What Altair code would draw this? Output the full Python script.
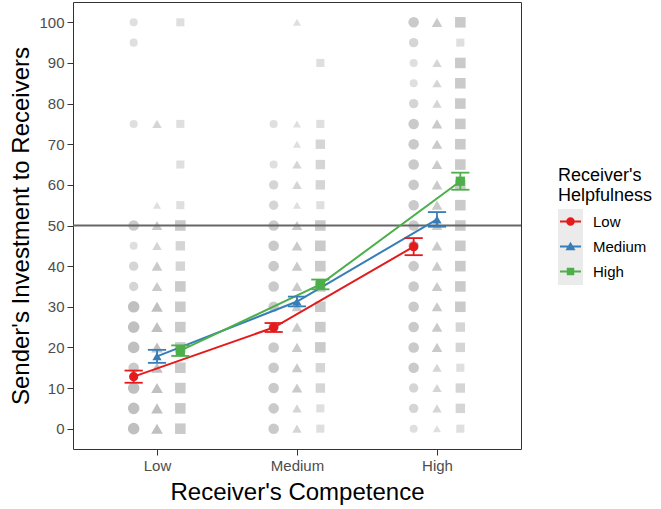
import altair as alt
import pandas as pd

FONT = "Liberation Sans"

# Categories
competence = ["Low", "Medium", "High"]
helpfulness = ["Low", "Medium", "High"]
help_colors = ["#E41A1C", "#377EB8", "#4DAF4A"]
help_shapes = ["circle", "triangle-up", "square"]
investment_levels = list(range(0, 101, 5))
y_ticks = list(range(0, 101, 10))

# Mean investment (and SE) for each helpfulness level, by competence level
mean_low_help = [12.8, 24.9, 44.8]
mean_medium_help = [17.8, 31.3, 51.5]
mean_high_help = [19.2, 35.5, 60.9]
se_low_help = [1.5, 1.1, 2.1]
se_medium_help = [1.6, 1.2, 1.8]
se_high_help = [1.3, 1.2, 2.1]

# Number of responses at each investment level 0, 5, ..., 100
counts_lowcomp_lowhelp = [4, 4, 4, 3, 4, 4, 4, 2, 2, 1, 3, 0, 0, 0, 0, 1, 0, 0, 0, 1, 1]
counts_lowcomp_medhelp = [4, 4, 4, 4, 4, 4, 4, 3, 3, 2, 3, 1, 0, 0, 0, 2, 0, 0, 0, 0, 0]
counts_lowcomp_highhelp = [3, 3, 3, 3, 3, 3, 3, 3, 2, 2, 3, 1, 0, 1, 0, 1, 0, 0, 0, 0, 1]
counts_medcomp_lowhelp = [3, 3, 3, 3, 3, 3, 3, 3, 3, 3, 3, 2, 2, 1, 0, 1, 0, 0, 0, 0, 0]
counts_medcomp_medhelp = [2, 2, 3, 3, 3, 3, 3, 3, 3, 3, 3, 1, 2, 2, 1, 1, 0, 0, 0, 0, 1]
counts_medcomp_highhelp = [1, 1, 2, 2, 3, 3, 3, 3, 3, 3, 3, 1, 2, 2, 2, 1, 0, 0, 1, 0, 0]
counts_highcomp_lowhelp = [1, 2, 2, 3, 3, 3, 3, 3, 3, 3, 3, 3, 3, 3, 3, 3, 2, 1, 1, 2, 3]
counts_highcomp_medhelp = [1, 2, 2, 2, 3, 3, 3, 3, 3, 3, 3, 3, 3, 3, 3, 3, 2, 2, 2, 0, 3]
counts_highcomp_highhelp = [1, 2, 2, 1, 2, 2, 3, 3, 3, 3, 3, 3, 3, 3, 3, 3, 3, 3, 3, 1, 3]

counts = {
    ("Low", "Low"): counts_lowcomp_lowhelp,
    ("Low", "Medium"): counts_lowcomp_medhelp,
    ("Low", "High"): counts_lowcomp_highhelp,
    ("Medium", "Low"): counts_medcomp_lowhelp,
    ("Medium", "Medium"): counts_medcomp_medhelp,
    ("Medium", "High"): counts_medcomp_highhelp,
    ("High", "Low"): counts_highcomp_lowhelp,
    ("High", "Medium"): counts_highcomp_medhelp,
    ("High", "High"): counts_highcomp_highhelp,
}
means = {"Low": mean_low_help, "Medium": mean_medium_help, "High": mean_high_help}
ses = {"Low": se_low_help, "Medium": se_medium_help, "High": se_high_help}

# position dodge of the three helpfulness groups around each competence level
DODGE = 1 / 6
CAP = 0.065
dodge = {h: (i - 1) * DODGE for i, h in enumerate(helpfulness)}

raw_rows = []
for ci, comp in enumerate(competence):
    for h in helpfulness:
        for v, n in zip(investment_levels, counts[(comp, h)]):
            if n > 0:
                raw_rows.append({"competence": comp, "helpfulness": h,
                                 "x": ci + 1 + dodge[h], "investment": v, "n": n})
raw = pd.DataFrame(raw_rows)

mean_rows = []
for h in helpfulness:
    for ci, comp in enumerate(competence):
        m, s = means[h][ci], ses[h][ci]
        x = ci + 1 + dodge[h]
        mean_rows.append({"competence": comp, "helpfulness": h, "x": x,
                          "investment": m, "lo": m - s, "hi": m + s,
                          "xlo": x - CAP, "xhi": x + CAP})
summary = pd.DataFrame(mean_rows)

x_scale = alt.Scale(domain=[0.4, 3.6], nice=False, zero=False)
y_scale = alt.Scale(domain=[-5, 105], nice=False, zero=False)

label_expr = " : ".join(
    f"datum.value == {i + 1} ? '{c}'" for i, c in enumerate(competence[:-1])
) + f" : '{competence[-1]}'"

x_axis = alt.Axis(title="Receiver's Competence", values=[1, 2, 3], labelExpr=label_expr,
                  titlePadding=7)
y_axis = alt.Axis(title="Sender's Investment to Receivers", values=y_ticks, titlePadding=5)

X = alt.X("x:Q", scale=x_scale, axis=x_axis)
Y = alt.Y("investment:Q", scale=y_scale, axis=y_axis)
color_enc = alt.Color("helpfulness:N", scale=alt.Scale(domain=helpfulness, range=help_colors),
                      legend=None)

# raw responses in grey
background = alt.Chart(raw).mark_point(filled=True, color="#c0c0c0", strokeWidth=0).encode(
    x=X, y=Y,
    shape=alt.Shape("helpfulness:N", scale=alt.Scale(domain=helpfulness, range=help_shapes),
                    legend=None),
    opacity=alt.Opacity("n:Q", scale=alt.Scale(domain=[1, 4], range=[0.5, 1.0]), legend=None),
    size=alt.Size("n:Q", scale=alt.Scale(domain=[1, 4], range=[65, 135]), legend=None),
)

midline = alt.Chart(pd.DataFrame({"investment": [50]})).mark_rule(
    color="#666666", strokeWidth=1.8
).encode(y=Y)

lines = alt.Chart(summary).mark_line(strokeWidth=2).encode(
    x=X, y=Y, color=color_enc, order="x:Q"
)

err_stems = alt.Chart(summary).mark_rule(strokeWidth=1.8).encode(
    x=X, y=alt.Y("lo:Q", scale=y_scale, axis=y_axis), y2="hi:Q", color=color_enc
)
cap_lo = alt.Chart(summary).mark_rule(strokeWidth=1.8).encode(
    x=alt.X("xlo:Q", scale=x_scale, axis=x_axis), x2="xhi:Q",
    y=alt.Y("lo:Q", scale=y_scale, axis=y_axis), color=color_enc
)
cap_hi = alt.Chart(summary).mark_rule(strokeWidth=1.8).encode(
    x=alt.X("xlo:Q", scale=x_scale, axis=x_axis), x2="xhi:Q",
    y=alt.Y("hi:Q", scale=y_scale, axis=y_axis), color=color_enc
)

mean_points = alt.Chart(summary).mark_point(filled=True, opacity=1, size=85, strokeWidth=0).encode(
    x=X, y=Y, color=color_enc,
    shape=alt.Shape("helpfulness:N", scale=alt.Scale(domain=helpfulness, range=help_shapes),
                    legend=None),
)

# legend keys: a short line with the group's marker
seg = "M-0.84,-0.08H0.84V0.08H-0.84Z"
key_paths = [
    seg + "M0.34,0A0.34,0.34,0,1,1,-0.34,0A0.34,0.34,0,1,1,0.34,0Z",
    seg + "M0,-0.38L0.4,0.3H-0.4Z",
    seg + "M-0.3,-0.3H0.3V0.3H-0.3Z",
]
legend = alt.Legend(
    title=["Receiver's", "Helpfulness"], orient="none", legendX=485, legendY=165,
    titleFontSize=18, titleFontWeight="normal", titleColor="black", titleFont=FONT,
    titleLineHeight=20, titlePadding=4, padding=0,
    labelFontSize=15, labelColor="black", labelFont=FONT, labelOffset=10,
    symbolSize=625, symbolStrokeWidth=0, symbolOpacity=1, rowPadding=4,
)
legend_keys = alt.Chart(summary).transform_filter("false").mark_point(
    filled=True, opacity=1, size=625, strokeWidth=0
).encode(
    x=X, y=Y,
    color=alt.Color("helpfulness:N", scale=alt.Scale(domain=helpfulness, range=help_colors),
                    legend=legend),
    shape=alt.Shape("helpfulness:N", scale=alt.Scale(domain=helpfulness, range=key_paths),
                    legend=legend),
)

key_bg = alt.Chart(pd.DataFrame({"k": [0]})).mark_rect(color="#ebebeb").encode(
    x=alt.value(485), x2=alt.value(510), y=alt.value(207), y2=alt.value(283)
)

chart = alt.layer(
    key_bg, background, midline, lines, err_stems, cap_lo, cap_hi, mean_points, legend_keys
).resolve_scale(
    shape="independent", color="independent", opacity="independent", size="independent"
).properties(
    width=448, height=447,
    padding={"left": 73, "top": 2, "right": 140, "bottom": 60},
    autosize=alt.AutoSizeParams(type="none"),
    background="white",
).configure_view(
    stroke="#333333", strokeWidth=1
).configure_axis(
    grid=False, domain=False,
    labelFont=FONT, labelFontSize=15, labelColor="#4d4d4d", labelPadding=3,
    tickColor="#333333", tickSize=6, tickWidth=1,
    titleFont=FONT, titleFontSize=24, titleFontWeight="normal", titleColor="black",
)

chart.save("out.html", embed_options={"renderer": "svg", "actions": False})
